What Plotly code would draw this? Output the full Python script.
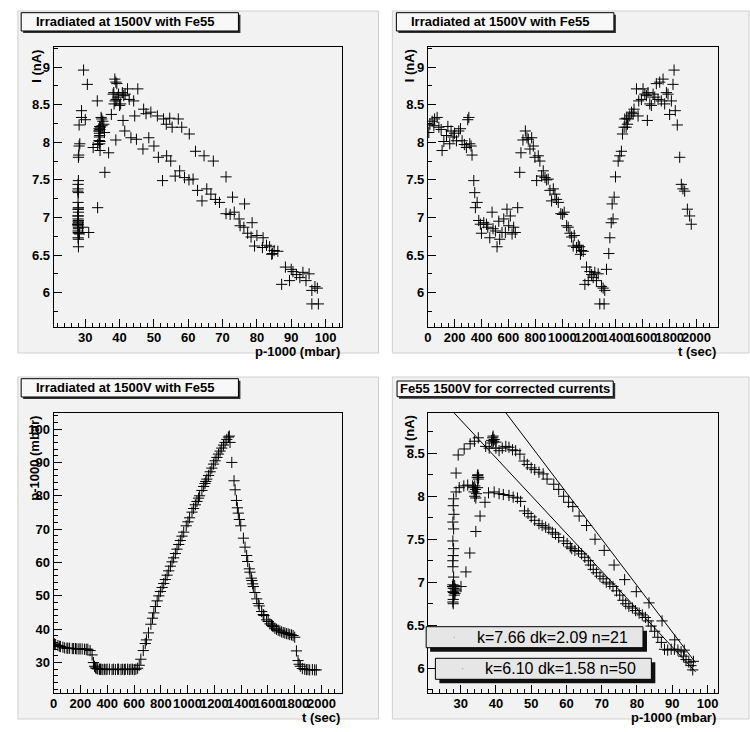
import plotly.graph_objects as go

FONT = "Liberation Sans"
W, H = 750, 732

# ---- run record: time (s), over-pressure p-1000 (mbar), current (nA) ----
t_sec = [7, 15, 32, 45, 50, 69, 82, 99, 106, 119, 139, 149, 163, 173, 188, 198, 213, 230, 243, 255,
         272, 287, 297, 305, 312, 322, 329, 342, 349, 354, 367, 379, 391, 399, 416, 436, 446, 461, 478, 485,
         503, 515, 528, 535, 552, 565, 577, 589, 602, 614, 627, 639, 651, 669, 684, 693, 708, 726, 738, 748,
         760, 773, 785, 797, 810, 822, 834, 847, 859, 872, 884, 896, 909, 921, 934, 946, 958, 971, 990, 1003,
         1015, 1033, 1045, 1058, 1070, 1082, 1090, 1107, 1120, 1130, 1136, 1144, 1157, 1169, 1181, 1194, 1206, 1219, 1231, 1243,
         1255, 1268, 1280, 1293, 1305, 1312, 1317, 1330, 1347, 1355, 1365, 1372, 1379, 1387, 1397, 1417, 1429, 1441, 1449, 1461,
         1466, 1476, 1480, 1486, 1491, 1503, 1516, 1528, 1535, 1553, 1565, 1570, 1590, 1602, 1615, 1627, 1634, 1639, 1652, 1664,
         1677, 1689, 1701, 1714, 1726, 1738, 1751, 1763, 1776, 1788, 1800, 1813, 1825, 1833, 1842, 1857, 1875, 1887, 1899, 1912,
         1932, 1949, 1961]

p_mbar = [35.6, 35.4, 35.1, 34.9, 34.8, 34.6, 34.4, 34.3, 34.3, 34.3, 34.2, 34.2, 34.2, 34.1, 34.1, 34.1, 34.1, 34.0, 34.0, 34.0,
          33.6, 32.3, 30.0, 28.9, 28.4, 28.2, 28.1, 28.0, 28.0, 28.0, 27.9, 28.0, 27.9, 28.0, 28.0, 27.9, 28.0, 27.9, 28.0, 28.0,
          27.9, 28.0, 27.9, 28.0, 28.0, 27.9, 28.0, 28.0, 27.9, 28.0, 28.3, 29.2, 31.0, 33.6, 35.7, 36.8, 38.9, 41.5, 43.3, 44.9,
          46.8, 48.5, 50.0, 51.3, 52.5, 53.7, 54.9, 56.2, 57.5, 58.9, 60.2, 61.4, 62.7, 64.0, 65.4, 66.6, 67.9, 69.1, 71.0, 72.2,
          73.4, 75.1, 76.2, 77.3, 78.3, 79.3, 80.0, 81.6, 82.8, 83.7, 84.3, 85.0, 86.1, 87.2, 88.3, 89.5, 90.5, 91.5, 92.5, 93.4,
          94.3, 95.2, 96.0, 96.9, 97.6, 97.9, 96.0, 90.0, 84.5, 81.8, 78.6, 76.4, 74.8, 72.9, 71.0, 67.3, 64.6, 62.1, 60.3, 58.1,
          57.1, 55.3, 54.6, 53.6, 52.8, 51.0, 49.1, 47.7, 47.0, 45.3, 44.4, 44.1, 42.8, 42.3, 41.6, 41.2, 41.0, 40.8, 40.3, 40.0,
          39.7, 39.5, 39.2, 39.0, 38.9, 38.7, 38.6, 38.4, 38.3, 38.1, 37.6, 33.5, 30.6, 29.5, 28.9, 28.2, 28.0, 27.9, 27.9, 27.8,
          27.9, 27.8, 27.8]

i_na = [8.13, 8.24, 8.28, 8.22, 8.31, 8.33, 8.20, 8.17, 7.89, 8.01, 8.09, 8.21, 7.98, 8.15, 8.07, 8.12, 8.02, 8.15, 8.18, 8.02,
        7.97, 7.93, 8.30, 8.33, 7.98, 7.95, 7.83, 7.49, 7.33, 7.13, 7.20, 6.96, 6.91, 6.79, 6.93, 6.91, 6.87, 6.73, 7.07, 6.85,
        6.82, 6.61, 6.95, 6.71, 6.80, 6.98, 6.80, 7.11, 6.89, 7.02, 6.78, 6.87, 6.80, 7.13, 7.60, 7.86, 8.03, 8.15, 8.06, 8.04,
        7.91, 8.06, 7.95, 7.80, 7.49, 7.82, 7.75, 7.55, 7.62, 7.53, 7.50, 7.51, 7.36, 7.22, 7.38, 7.31, 7.24, 7.20, 7.05, 7.04,
        7.07, 6.89, 6.87, 6.79, 6.74, 6.62, 6.76, 6.60, 6.63, 6.61, 6.51, 6.56, 6.55, 6.11, 6.34, 6.16, 6.28, 6.24, 6.20, 6.27,
        6.16, 6.25, 5.85, 6.08, 6.06, 5.85, 6.03, 6.31, 6.52, 6.73, 6.93, 7.18, 6.98, 7.27, 7.54, 7.75, 7.82, 7.88, 8.11, 8.20,
        8.31, 8.20, 8.32, 8.24, 8.31, 8.35, 8.40, 8.38, 8.44, 8.71, 8.35, 8.55, 8.57, 8.71, 8.64, 8.62, 8.29, 8.66, 8.51, 8.49,
        8.64, 8.60, 8.78, 8.57, 8.80, 8.55, 8.84, 8.51, 8.66, 8.64, 8.37, 8.55, 8.77, 8.96, 8.42, 8.23, 7.80, 7.44, 7.38, 7.35,
        7.11, 7.02, 6.91]

# ---- corrected currents vs over-pressure ----
p_corr = [28.0, 27.9, 28.1, 27.8, 28.0, 27.8, 28.0, 27.9, 27.8, 27.8, 28.0, 27.8, 28.1, 27.8, 28.2, 27.9, 27.8, 27.9,
          27.7, 28.3, 28.5, 28.0, 28.4, 27.9, 28.6,
          30.1, 31.5, 32.6, 34.3, 35.5, 36.9, 37.9, 39.5, 40.9, 42.1, 43.7, 44.9, 46.1, 47.0, 48.1, 49.1, 50.0,
          51.0, 52.2, 53.1, 54.1, 55.0, 56.0, 56.9, 57.8, 59.2, 60.2, 61.1, 61.5, 62.4, 63.4, 64.3, 65.2, 66.2,
          66.8, 67.6, 68.5, 69.5, 70.4, 71.3, 72.3, 73.2, 74.2, 75.1, 76.0, 76.8, 77.7, 78.7, 79.6, 80.6, 81.5,
          82.4, 83.2, 84.0, 85.0, 85.9, 86.9, 87.8, 88.7, 89.7, 90.6, 91.6, 92.5, 93.2, 93.9, 94.7, 95.3, 95.8,
          28.7, 29.6, 30.9, 32.0, 33.4, 33.8, 34.0, 34.2, 33.6, 34.5, 34.3, 34.8, 34.0,
          34.7, 34.9, 35.0, 34.8, 35.1,
          28.7, 29.3, 31.0, 32.7, 33.9, 35.0,
          38.8, 39.1, 39.3, 38.9, 39.5, 39.2, 40.0,
          37.1, 38.1, 40.0, 40.9, 41.8, 42.8, 43.7, 44.7, 45.6, 46.8, 48.0, 48.9, 50.0, 51.0, 52.2, 53.4, 54.5,
          56.4, 57.8, 59.2, 60.6, 61.8, 63.6, 65.7, 68.1, 70.7, 73.5, 76.5, 79.8, 83.4, 87.1, 90.7, 93.4, 96.0]

i_corr = [7.97, 7.89, 7.79, 7.70, 7.62, 7.48, 7.39, 7.31, 7.25, 7.18, 7.06, 6.97, 6.93, 6.89, 6.85, 6.80, 6.77, 6.75,
          6.95, 6.96, 6.92, 6.88, 6.87, 6.93, 6.90,
          6.95, 7.12, 7.34, 7.59, 7.77, 7.93, 8.04, 8.05, 8.03, 8.02, 8.01, 7.99, 7.98, 7.94, 7.83, 7.80, 7.76,
          7.72, 7.68, 7.66, 7.64, 7.62, 7.58, 7.56, 7.52, 7.48, 7.45, 7.41, 7.39, 7.37, 7.36, 7.33, 7.29, 7.25,
          7.20, 7.15, 7.11, 7.07, 7.04, 7.00, 6.98, 6.95, 6.90, 6.85, 6.79, 6.75, 6.72, 6.70, 6.67, 6.64, 6.62,
          6.59, 6.55, 6.49, 6.43, 6.36, 6.30, 6.22, 6.21, 6.22, 6.22, 6.21, 6.19, 6.14, 6.10, 6.07, 6.03, 5.98,
          8.05, 8.10, 8.12, 8.13, 8.12, 8.05, 8.00, 8.08, 8.10, 8.03, 7.98, 8.10, 8.12,
          8.22, 8.25, 8.20, 8.24, 8.22,
          8.27, 8.48, 8.55, 8.61, 8.64, 8.68,
          8.65, 8.68, 8.64, 8.62, 8.66, 8.70, 8.63,
          8.58, 8.56, 8.56, 8.53, 8.56, 8.58, 8.57, 8.54, 8.53, 8.49, 8.41, 8.37, 8.33, 8.31, 8.28, 8.26, 8.20,
          8.14, 8.08, 8.00, 7.93, 7.88, 7.77, 7.66, 7.50, 7.37, 7.20, 7.03, 6.89, 6.76, 6.55, 6.33, 6.21, 6.08]

# straight-line fits I = a + b*p of the two branches, drawn up to p_max
fit_a = [11.284, 10.208]
fit_b = [-0.05403, -0.04400]
fit_pmax = [96.6, 96.6]
fit_labels = ["k=7.66 dk=2.09 n=21", "k=6.10 dk=1.58 n=50"]

titles = ["Irradiated at 1500V with Fe55", "Irradiated at 1500V with Fe55",
          "Irradiated at 1500V with Fe55", "Fe55 1500V for corrected currents"]

PAD_FILL = "#f2f2f2"


def padded(vals, clamp0=False):
    lo, hi = min(vals), max(vals)
    d = 0.1 * (hi - lo)
    a, b = lo - d, hi + d
    if clamp0 and lo >= 0 and a < 0:
        a = 0.0
    return [a, b]


def xd(x0, x1):
    return [x0 / W, x1 / W]


def yd(y0, y1):
    return [1 - y1 / H, 1 - y0 / H]


tick_font = dict(family=FONT, size=13, color="black", weight="bold")


def axis(domain, rng, dtick, minor, anchor, tlen, standoff=0):
    return dict(domain=domain, range=rng, tickmode="linear", tick0=0, dtick=dtick,
                ticks="inside", ticklen=tlen, tickwidth=1, tickcolor="black",
                minor=dict(tick0=0, dtick=minor, ticks="inside", ticklen=tlen / 2,
                           tickwidth=1, tickcolor="black"),
                showline=True, linecolor="black", linewidth=1, mirror=True,
                showgrid=False, zeroline=False, tickfont=tick_font, tickangle=0,
                ticklabelstandoff=standoff,
                anchor=anchor, fixedrange=True)


# frame boxes in pixels (x0, x1, y0, y1)
frames = [(50, 340.7, 46.7, 327.3), (426.7, 718.3, 46.7, 327.3),
          (50, 340.7, 412.7, 693.3), (427.3, 718.3, 412.7, 693.3)]

rng_p = padded(p_mbar)
rng_i = padded(i_na)
rng_t = padded(t_sec, clamp0=True)
rng_pc = padded(p_corr)
rng_ic = padded(i_corr)

fig = go.Figure()

mk = dict(symbol="cross-thin", size=8, line=dict(width=1, color="black"), color="black")

fig.add_trace(go.Scatter(x=p_mbar, y=i_na, mode="markers", marker=mk, xaxis="x", yaxis="y",
                         showlegend=False, hoverinfo="skip"))
fig.add_trace(go.Scatter(x=t_sec, y=i_na, mode="markers", marker=mk, xaxis="x2", yaxis="y2",
                         showlegend=False, hoverinfo="skip"))
fig.add_trace(go.Scatter(x=t_sec, y=p_mbar, mode="markers", marker=mk, xaxis="x3", yaxis="y3",
                         showlegend=False, hoverinfo="skip"))
fig.add_trace(go.Scatter(x=p_corr, y=i_corr, mode="markers", marker=mk, xaxis="x4", yaxis="y4",
                         showlegend=False, hoverinfo="skip"))
for a, b, pm in zip(fit_a, fit_b, fit_pmax):
    xs = [rng_pc[0], pm]
    fig.add_trace(go.Scatter(x=xs, y=[a + b * x for x in xs], mode="lines",
                             line=dict(color="black", width=1), xaxis="x4", yaxis="y4",
                             showlegend=False, hoverinfo="skip"))

f = frames
XS = -2  # pull x tick labels a little toward the frame
fig.update_layout(
    width=W, height=H, margin=dict(l=0, r=0, t=0, b=0),
    paper_bgcolor="white", plot_bgcolor=PAD_FILL,
    xaxis=axis(xd(f[0][0], f[0][1]), rng_p, 10, 2, "y", 8.5, XS),
    yaxis=axis(yd(f[0][2], f[0][3]), rng_i, 0.5, 0.25, "x", 8.5),
    xaxis2=axis(xd(f[1][0], f[1][1]), rng_t, 200, 50, "y2", 8.5, XS),
    yaxis2=axis(yd(f[1][2], f[1][3]), rng_i, 0.5, 0.25, "x2", 8.5),
    xaxis3=axis(xd(f[2][0], f[2][1]), rng_t, 200, 50, "y3", 8.5, XS),
    yaxis3=axis(yd(f[2][2], f[2][3]), rng_p, 10, 2, "x3", 8.5),
    xaxis4=axis(xd(f[3][0], f[3][1]), rng_pc, 10, 2, "y4", 8.5, XS),
    yaxis4=axis(yd(f[3][2], f[3][3]), rng_ic, 0.5, 0.25, "x4", 8.5),
)

shapes = []
ann = []


def rect(x0, y0, x1, y1, fill, line=None, lw=1, layer="above"):
    shapes.append(dict(type="rect", xref="paper", yref="paper",
                       x0=x0 / W, x1=x1 / W, y0=1 - y1 / H, y1=1 - y0 / H,
                       fillcolor=fill, line=dict(color=line or fill, width=lw if line else 0),
                       layer=layer))


def text(s, x, y, xa, ya, size=13, bold=True, angle=0):
    ann.append(dict(text=s, x=x / W, y=1 - y / H, xref="paper", yref="paper",
                    xanchor=xa, yanchor=ya, showarrow=False, textangle=angle,
                    font=dict(family=FONT, size=size, color="black",
                              weight="bold" if bold else "normal")))


# pads
pads = [(14, 11, 377, 353), (391, 11, 750, 353), (14, 377, 377, 719), (391, 377, 750, 719)]
for (x0, y0, x1, y1) in pads:
    rect(x0, y0, x1, y1, PAD_FILL, "#d0d0d0", 1, layer="below")

# title boxes with shadow
tboxes = [(17.3, 12.7, 236, 31), (395, 12.7, 614, 31), (17.3, 378.7, 236, 397), (395.7, 381, 613.3, 396.7)]
for k, (x0, y0, x1, y1) in enumerate(tboxes):
    rect(x0 + 2, y0 + 2, x1 + 2, y1 + 2, "#303030")
    rect(x0, y0, x1, y1, "#f8f8f8", "black", 1)
    if k < 3:
        text(titles[k], x0 + 12.7, (y0 + y1) / 2, "left", "middle")
    else:
        text(titles[k], (x0 + x1) / 2, (y0 + y1) / 2, "center", "middle")

# axis titles
text("p-1000 (mbar)", 340.7, 351.5, "right", "middle")
text("I (nA)", 32, 47.5, "center", "top", angle=-90)
text("t (sec)", 718.3, 351.5, "right", "middle")
text("I (nA)", 408, 47.5, "center", "top", angle=-90)
text("t (sec)", 340.7, 717.5, "right", "middle")
text("p-1000 (mbar)", 30, 413.5, "center", "top", angle=-90)
text("p-1000 (mbar)", 718.3, 717.5, "right", "middle")
text("I (nA)", 408, 413.5, "center", "top", angle=-90)

# fit result boxes
lboxes = [(425, 626.7, 643.3, 647.7), (434.3, 658.3, 651.7, 679.3)]
dots = [453.3, 461.7]
for (x0, y0, x1, y1), lab, dx in zip(lboxes, fit_labels, dots):
    rect(x0 + 4, y0 + 4, x1 + 4, y1 + 4, "#101010")
    rect(x0, y0, x1, y1, "#e6e6e6", "black", 1)
    rect(dx - 0.5, (y0 + y1) / 2 - 0.5, dx + 0.5, (y0 + y1) / 2 + 0.5, "#9a9a9a")
    text(lab, x1 - 13, (y0 + y1) / 2, "right", "middle", size=16, bold=False)

fig.update_layout(shapes=shapes, annotations=ann)
fig.write_html("out.html")
